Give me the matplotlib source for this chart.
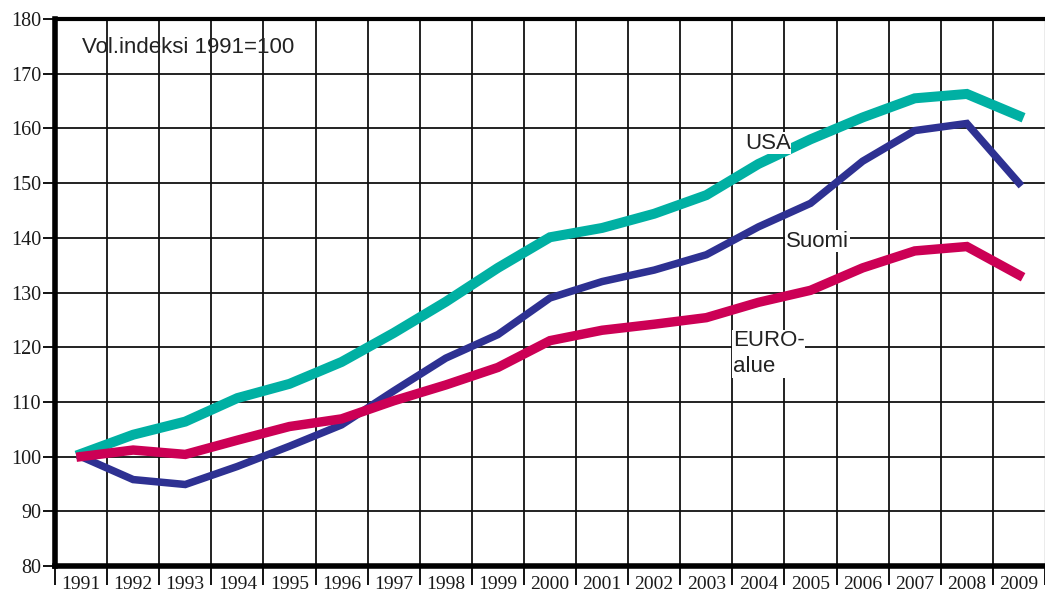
import matplotlib
matplotlib.use("Agg")
import matplotlib.pyplot as plt
import numpy as np

years = [str(y) for y in range(1991, 2010)]
usa = [100.5, 104.0, 106.4, 110.7, 113.3, 117.3, 122.6, 128.3, 134.5, 140.1,
       141.8, 144.4, 147.8, 153.5, 158.0, 162.0, 165.5, 166.3, 162.3]
suomi = [100.0, 95.8, 94.9, 98.2, 101.9, 105.8, 112.0, 118.0, 122.3, 129.0,
         132.0, 134.1, 136.9, 142.0, 146.3, 154.0, 159.6, 160.9, 150.0]
euro = [100.0, 101.2, 100.4, 103.0, 105.5, 106.9, 110.2, 113.1, 116.3, 121.2,
        123.1, 124.2, 125.4, 128.2, 130.4, 134.5, 137.6, 138.4, 133.2]
yticks = list(range(80, 181, 10))

fig = plt.figure(figsize=(10.45, 6.01), dpi=100)
ax = fig.add_axes([55/1045, 35/601, 990/1045, 547/601])

x = np.arange(len(years))
ax.plot(x, usa, color="#00b0a3", lw=7.2, solid_joinstyle="miter", zorder=3)
ax.plot(x, suomi, color="#2e3192", lw=5.4, solid_joinstyle="miter", zorder=4)
ax.plot(x, euro, color="#cc0055", lw=6.8, solid_joinstyle="miter", zorder=5)

ax.set_xlim(-0.5, len(years) - 0.5)
ax.set_ylim(80, 180)
ax.set_yticks(yticks)
ax.set_yticklabels([str(v) for v in yticks], family="Liberation Serif",
                   fontsize=14.5, color="#1a1a1a")
ax.set_xticks(x)
ax.set_xticklabels(years, family="Liberation Serif", fontsize=14, color="#1a1a1a")
ax.tick_params(axis="x", length=0, pad=7)
ax.set_xticks(np.arange(-0.5, len(years), 1.0), minor=True)
ax.tick_params(axis="x", which="minor", length=14, width=1.3, color="black", direction="out")
ax.tick_params(axis="y", length=9, width=1.3, direction="out", pad=1)

for v in yticks:
    ax.axhline(v, color="#111111", lw=1.3, zorder=1)
for xv in np.arange(0.5, len(years) - 0.5, 1.0):
    ax.axvline(xv, color="#111111", lw=1.3, zorder=1)

ax.spines["left"].set_linewidth(4)
ax.spines["bottom"].set_linewidth(4)
ax.spines["top"].set_linewidth(3)
ax.spines["right"].set_linewidth(1.0)
ax.spines["right"].set_color("#999999")

tf = dict(family="Liberation Sans", fontsize=16, color="#222222", zorder=6,
          va="center", ha="left")
bb = dict(facecolor="white", edgecolor="none", pad=0.5)
ax.text(0.02, 174.7, "Vol.indeksi 1991=100", **tf)
ax.text(12.74, 157.3, "USA", bbox=bb, **tf)
ax.text(13.53, 139.4, "Suomi", bbox=bb, **tf)
ax.text(12.51, 118.8, "EURO-\nalue", bbox=bb, linespacing=1.3, **tf)

fig.savefig("out.png", dpi=100)
